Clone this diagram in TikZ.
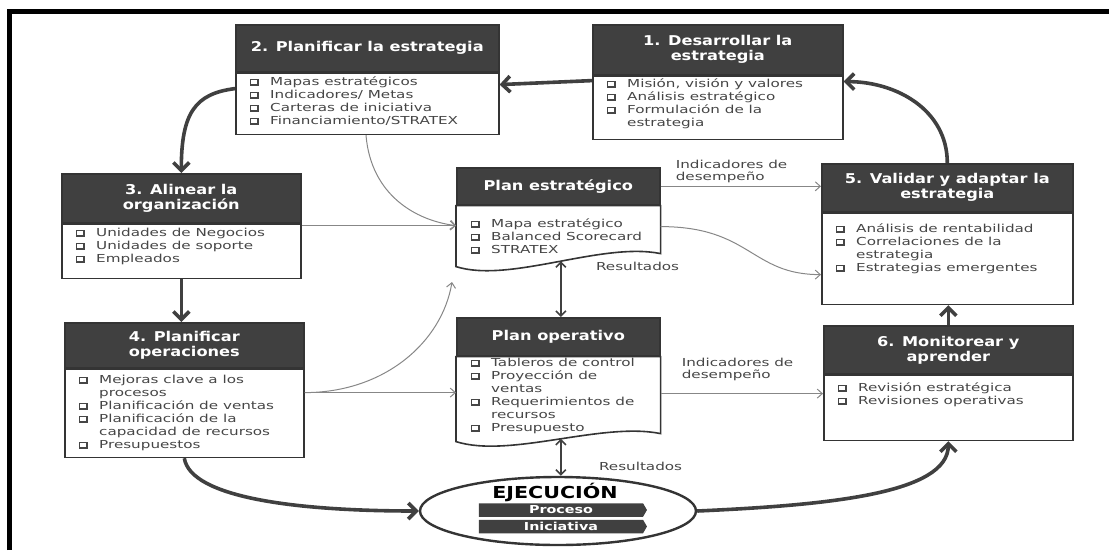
\documentclass[tikz,border=0pt]{standalone}
\usepackage{fontspec}
\usetikzlibrary{arrows.meta,shapes.geometric,shapes.symbols}
\newfontfamily\hdrfont{DejaVu Sans}[FakeStretch=1.2]
\newfontfamily\itmfont{DejaVu Sans}[FakeStretch=1.38]
\newfontfamily\ejfont{DejaVu Sans}[FakeStretch=1.25]
\newfontfamily\banfont{DejaVu Sans}[FakeStretch=1.3]
\definecolor{hdrgray}{RGB}{64,64,64}
\definecolor{edgegray}{RGB}{52,52,52}
\definecolor{txtgray}{RGB}{70,70,70}
\definecolor{thingray}{RGB}{135,135,135}
\definecolor{thickgray}{RGB}{64,64,64}
% shadowed checkbox bullet, continuation indent and item table
\newcommand\chkglyph{\rlap{\rule{9pt}{1.8pt}}\rlap{\raisebox{6pt}{\rule{9pt}{0.9pt}}}%
  \rlap{\rule{0.9pt}{6.9pt}}\kern7.2pt\rule{1.8pt}{6.9pt}}
\newcommand\chkbox{\makebox[20pt][l]{\chkglyph}}
\newcommand\chkcont{\hspace*{20pt}}
\newcommand\itemrows[1]{\begin{tabular}[t]{@{}l@{}}#1\end{tabular}}

\begin{document}
\begin{tikzpicture}[x=1pt,y=-1pt,
  outerframe/.style={line width=5pt,draw=black},
  hdr/.style={draw=edgegray,fill=hdrgray,line width=1.6pt,text=white,align=center,
    anchor=north west,inner sep=0pt,font=\hdrfont\bfseries\fontsize{13.5}{15}\selectfont},
  bodyframe/.style={draw=edgegray,fill=white,line width=1.6pt,anchor=north west,inner sep=0pt},
  docbody/.style={draw=edgegray,fill=white,line width=1.6pt},
  itemlist/.style={anchor=base west,inner sep=0pt,text=txtgray,
    font=\itmfont\fontsize{11}{13}\selectfont},
  lbl/.style={inner sep=0pt,text=txtgray,align=left,font=\itmfont\fontsize{11}{12}\selectfont},
  thinarrow/.style={draw=thingray,line width=1pt,-{Straight Barb[length=5pt,width=9pt]}},
  thickarrow/.style={draw=thickgray,line width=3.6pt,-{Straight Barb[length=8pt,width=16pt]}},
  dblarrow/.style={draw=thickgray,line width=1.6pt,
    {Straight Barb[length=5pt,width=10pt]}-{Straight Barb[length=5pt,width=10pt]}},
  banner/.style={signal,signal to=east,signal pointer angle=120,fill=hdrgray,text=white,
    inner sep=0pt,minimum width=168pt,minimum height=13.5pt,
    font=\banfont\bfseries\fontsize{11}{12}\selectfont},
]
\useasboundingbox (0,0) rectangle (1109,550);
\draw[outerframe] (9.5,550) -- (9.5,11.5) -- (1109,11.5);

% 1. Desarrollar la estrategia
\node[hdr,minimum width=250pt,minimum height=50pt] (h1) at (592,24) {1. Desarrollar la\\estrategia};
\node[bodyframe,minimum width=250pt,minimum height=63pt] (b1) at (h1.south west) {};
\node[itemlist] (t1) at ([xshift=15pt,yshift=-12pt]b1.north west)
  {\itemrows{\chkbox Misión, visión y valores\\ \chkbox Análisis estratégico\\ \chkbox Formulación de la\\ \chkcont estrategia}};

% 2. Planificar la estrategia
\node[hdr,minimum width=263pt,minimum height=47pt] (h2) at (235,24) {2. Planificar la estrategia};
\node[bodyframe,minimum width=263pt,minimum height=61pt] (b2) at (h2.south west) {};
\node[itemlist] (t2) at ([xshift=15pt,yshift=-13pt]b2.north west)
  {\itemrows{\chkbox Mapas estratégicos\\ \chkbox Indicadores/ Metas\\ \chkbox Carteras de iniciativa\\ \chkbox Financiamiento/STRATEX}};

% 3. Alinear la organización
\node[hdr,minimum width=239pt,minimum height=49pt] (h3) at (61,173) {3. Alinear la\\organización};
\node[bodyframe,minimum width=239pt,minimum height=54pt] (b3) at (h3.south west) {};
\node[itemlist] (t3) at ([xshift=15pt,yshift=-13pt]b3.north west)
  {\itemrows{\chkbox Unidades de Negocios\\ \chkbox Unidades de soporte\\ \chkbox Empleados}};

% 4. Planificar operaciones
\node[hdr,minimum width=239pt,minimum height=45pt] (h4) at (64,322) {4. Planificar\\operaciones};
\node[bodyframe,minimum width=239pt,minimum height=88pt] (b4) at (h4.south west) {};
\node[itemlist] (t4) at ([xshift=15pt,yshift=-15pt]b4.north west)
  {\itemrows{\chkbox Mejoras clave a los\\ \chkcont procesos\\ \chkbox Planificación de ventas\\ \chkbox Planificación de la\\ \chkcont capacidad de recursos\\ \chkbox Presupuestos}};

% 5. Validar y adaptar la estrategia
\node[hdr,minimum width=251pt,minimum height=48pt] (h5) at (821,163) {5. Validar y adaptar la\\estrategia};
\node[bodyframe,minimum width=251pt,minimum height=91pt] (b5) at (h5.south west) {};
\node[itemlist] (t5) at ([xshift=15pt,yshift=-20pt]b5.north west)
  {\itemrows{\chkbox Análisis de rentabilidad\\ \chkbox Correlaciones de la\\ \chkcont estrategia\\ \chkbox Estrategias emergentes}};

% 6. Monitorear y aprender
\node[hdr,minimum width=249pt,minimum height=48pt] (h6) at (823,325) {6. Monitorear y\\aprender};
\node[bodyframe,minimum width=249pt,minimum height=65pt] (b6) at (h6.south west) {};
\node[itemlist] (t6) at ([xshift=15pt,yshift=-17pt]b6.north west)
  {\itemrows{\chkbox Revisión estratégica\\ \chkbox Revisiones operativas}};

% Plan estratégico (document shape)
\node[hdr,minimum width=203pt,minimum height=37pt] (hpe) at (456,167) {Plan estratégico};
\draw[docbody] (hpe.south west) -- ++(0,61)
  .. controls +(54,17) and +(-59,-12) .. ([yshift=-48pt]hpe.south east) coordinate[pos=0.52] (pebot)
  -- (hpe.south east) -- cycle;
\node[itemlist] (tpe) at ([xshift=15pt,yshift=-22pt]hpe.south west)
  {\itemrows{\chkbox Mapa estratégico\\ \chkbox Balanced Scorecard\\ \chkbox STRATEX}};

% Plan operativo (document shape)
\node[hdr,minimum width=203pt,minimum height=38pt] (hpo) at (456,317) {Plan operativo};
\draw[docbody] (hpo.south west) -- ++(0,85)
  .. controls +(54,17) and +(-59,-12) .. ([yshift=-77pt]hpo.south east) coordinate[pos=0.52] (pobot)
  -- (hpo.south east) -- cycle;
\node[itemlist] (tpo) at ([xshift=15pt,yshift=-10pt]hpo.south west)
  {\itemrows{\chkbox Tableros de control\\ \chkbox Proyección de\\ \chkcont ventas\\ \chkbox Requerimientos de\\ \chkcont recursos\\ \chkbox Presupuesto}};

% Ejecución
\node[ellipse,draw=edgegray,line width=2.4pt,fill=white,minimum width=276pt,minimum height=68pt,inner sep=0pt] (ej) at (558,511) {};
\node[inner sep=0pt,font=\ejfont\bfseries\fontsize{16.5}{18}\selectfont] (ejt) at (555,492) {EJECUCIÓN};
\node[banner] (proc) at (561,510) {Proceso};
\node[banner] (inic) at (561,526.5) {Iniciativa};

% main cycle
\draw[thickarrow] (h5.north) .. controls +(0,-53) and +(53,0) .. ([yshift=-6pt]b1.north east);
\draw[thickarrow] ([yshift=-5pt]b1.north west) -- ([yshift=-12pt]b2.north east);
\draw[thickarrow] ([yshift=-16pt]b2.north west) .. controls +(-40,5) and +(0,-60) .. (h3.north);
\draw[thickarrow] (b3.south) -- (b3.south |- h4.north);
\draw[thickarrow] (b4.south) .. controls +(6.5,40) and +(-120,0) .. (ej.west);
\draw[thickarrow] (ej.east) .. controls +(134,-6) and +(0,52) .. (b6.south);
\draw[thickarrow] (h6.north) -- (h6.north |- b5.south);

% plans and feedback
\coordinate (pein) at ([yshift=-20pt]hpe.south west);
\draw[thinarrow] ([xshift=131pt]b2.south west) .. controls +(5,60) and +(-40,-5) .. (pein);
\draw[thinarrow] (b3.east |- pein) -- (pein);
\coordinate (b4out) at ([yshift=-24pt]b4.north east);
\coordinate (upend) at (452,282);
\draw[thinarrow] (b4out) -- (b4out -| hpo.west);
\draw[thinarrow] (b4out) .. controls +(80,0) and +(-10,60) .. (upend);
\draw[thinarrow] (hpe.east) -- (hpe.east -| h5.west);
\draw[thinarrow] ([yshift=-21pt]hpe.south east) .. controls +(90,0) and +(-70,0) .. ([yshift=-62pt]b5.north west);
\coordinate (poout) at ([yshift=-37pt]hpo.south east);
\draw[thinarrow] (poout) -- (poout -| b6.west);
\draw[dblarrow] (pebot) -- (pebot |- hpo.north);
\draw[dblarrow] (pobot) -- (pobot |- ej.north);

\node[lbl,anchor=south west] (ind1) at ([xshift=15pt,yshift=3pt]hpe.east) {Indicadores de\\desempeño};
\node[lbl,anchor=south west] (ind2) at ([xshift=21pt,yshift=13pt]poout) {Indicadores de\\desempeño};
\node[lbl,anchor=west] (res1) at ([xshift=35pt,yshift=-5pt]pebot) {Resultados};
\node[lbl,anchor=west] (res2) at ([xshift=38pt,yshift=-28pt]pobot) {Resultados};
\end{tikzpicture}
\end{document}
